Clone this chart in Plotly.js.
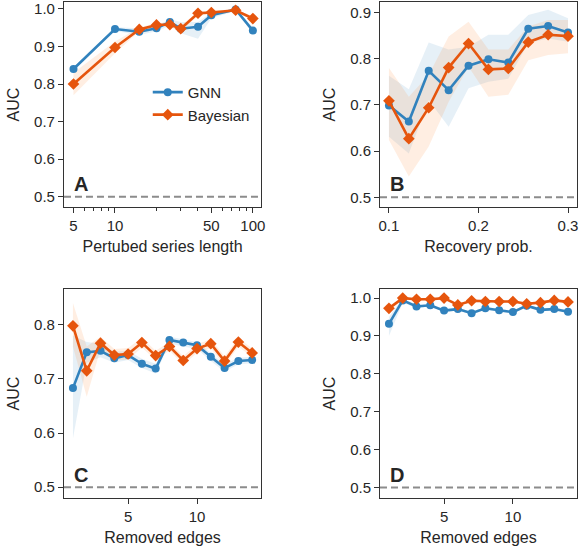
<!DOCTYPE html>
<html>
<head>
<meta charset="utf-8">
<script src="https://cdn.plot.ly/plotly-3.0.1.min.js"></script>
<style>html,body{margin:0;padding:0;background:#fff;} #chart{width:579px;height:550px;}</style>
</head>
<body>
<div id="chart"></div>
<script>
// ---- Panel A: perturbed series length (log x) ----
const lenX = [5, 10, 15, 20, 25, 30, 40, 50, 75, 100];
const aGnn   = [0.840, 0.946, 0.939, 0.948, 0.965, 0.947, 0.952, 0.983, 0.998, 0.942];
const aGnnLo = [0.835, 0.941, 0.930, 0.940, 0.955, 0.935, 0.920, 0.975, 0.994, 0.935];
const aGnnHi = [0.845, 0.951, 0.948, 0.955, 0.972, 0.965, 0.965, 0.990, 1.000, 0.950];
const aBay   = [0.800, 0.897, 0.945, 0.957, 0.958, 0.947, 0.988, 0.990, 0.996, 0.974];
const aBayLo = [0.770, 0.882, 0.940, 0.952, 0.952, 0.940, 0.981, 0.985, 0.993, 0.968];
const aBayHi = [0.830, 0.913, 0.950, 0.962, 0.963, 0.955, 0.993, 0.995, 0.999, 0.980];

// ---- Panel B: recovery probability ----
const recX = [0.1, 0.1222, 0.1444, 0.1667, 0.1889, 0.2111, 0.2333, 0.2556, 0.2778, 0.3];
const bGnn   = [0.699, 0.664, 0.774, 0.732, 0.785, 0.799, 0.792, 0.865, 0.871, 0.857];
const bGnnLo = [0.631, 0.595, 0.710, 0.653, 0.736, 0.750, 0.757, 0.834, 0.844, 0.837];
const bGnnHi = [0.763, 0.734, 0.835, 0.820, 0.826, 0.852, 0.852, 0.895, 0.906, 0.888];
const bBay   = [0.709, 0.627, 0.694, 0.781, 0.833, 0.777, 0.779, 0.836, 0.852, 0.849];
const bBayLo = [0.624, 0.545, 0.610, 0.707, 0.783, 0.718, 0.722, 0.797, 0.808, 0.812];
const bBayHi = [0.780, 0.718, 0.765, 0.848, 0.880, 0.820, 0.820, 0.870, 0.884, 0.884];

// ---- Panel C: removed edges ----
const edgesX = [1, 2, 3, 4, 5, 6, 7, 8, 9, 10, 11, 12, 13, 14];
const cGnn   = [0.683, 0.749, 0.752, 0.738, 0.744, 0.728, 0.719, 0.772, 0.767, 0.762, 0.741, 0.720, 0.733, 0.735];
const cGnnLo = [0.590, 0.730, 0.740, 0.730, 0.735, 0.720, 0.710, 0.765, 0.760, 0.755, 0.733, 0.713, 0.727, 0.729];
const cGnnHi = [0.780, 0.768, 0.765, 0.750, 0.752, 0.737, 0.728, 0.778, 0.773, 0.768, 0.748, 0.727, 0.739, 0.741];
const cBay   = [0.798, 0.715, 0.766, 0.744, 0.746, 0.767, 0.743, 0.760, 0.734, 0.756, 0.765, 0.733, 0.768, 0.748];
const cBayLo = [0.760, 0.667, 0.755, 0.735, 0.735, 0.758, 0.735, 0.752, 0.726, 0.748, 0.757, 0.724, 0.760, 0.740];
const cBayHi = [0.840, 0.760, 0.778, 0.755, 0.757, 0.776, 0.752, 0.768, 0.742, 0.764, 0.773, 0.742, 0.776, 0.756];

// ---- Panel D: removed edges ----
const dGnn   = [0.932, 0.994, 0.978, 0.981, 0.967, 0.971, 0.960, 0.973, 0.968, 0.963, 0.980, 0.969, 0.971, 0.964];
const dGnnLo = [0.900, 0.988, 0.974, 0.977, 0.963, 0.967, 0.956, 0.969, 0.964, 0.959, 0.976, 0.965, 0.967, 0.960];
const dGnnHi = [0.950, 1.000, 0.982, 0.985, 0.971, 0.975, 0.964, 0.977, 0.972, 0.967, 0.984, 0.973, 0.975, 0.968];
const dBay   = [0.973, 1.000, 0.997, 0.997, 1.000, 0.982, 0.993, 0.991, 0.991, 0.991, 0.985, 0.988, 0.994, 0.990];
const dBayLo = [0.965, 0.997, 0.994, 0.994, 0.997, 0.979, 0.990, 0.988, 0.988, 0.988, 0.982, 0.985, 0.991, 0.987];
const dBayHi = [0.980, 1.000, 1.000, 1.000, 1.000, 0.985, 0.996, 0.994, 0.994, 0.994, 0.988, 0.991, 0.997, 0.993];

const seriesNames = ['GNN', 'Bayesian'];
const panelLetters = ['A', 'B', 'C', 'D'];
const xTitles = ['Pertubed series length', 'Recovery prob.', 'Removed edges', 'Removed edges'];
const yTitle = 'AUC';
const chanceLevel = 0.5;

const BLUE = '#3182bd';
const ORANGE = '#e6550d';
const BLUE_FILL = 'rgba(49,130,189,0.12)';
const ORANGE_FILL = 'rgba(253,141,60,0.15)';
const FONT = 'Liberation Sans, Arial, sans-serif';

const panels = [
  {x: lenX,   g: aGnn, gl: aGnnLo, gh: aGnnHi, b: aBay, bl: aBayLo, bh: aBayHi},
  {x: recX,   g: bGnn, gl: bGnnLo, gh: bGnnHi, b: bBay, bl: bBayLo, bh: bBayHi},
  {x: edgesX, g: cGnn, gl: cGnnLo, gh: cGnnHi, b: cBay, bl: cBayLo, bh: cBayHi},
  {x: edgesX, g: dGnn, gl: dGnnLo, gh: dGnnHi, b: dBay, bl: dBayLo, bh: dBayHi}
];

function band(x, lo, hi, color, xa, ya) {
  return {
    x: x.concat(x.slice().reverse()),
    y: lo.concat(hi.slice().reverse()),
    xaxis: xa, yaxis: ya,
    type: 'scatter', mode: 'lines', fill: 'toself', fillcolor: color,
    line: {width: 0, color: 'rgba(0,0,0,0)'},
    hoverinfo: 'skip', showlegend: false
  };
}

const traces = [];
panels.forEach((p, i) => {
  const xa = i === 0 ? 'x' : 'x' + (i + 1);
  const ya = i === 0 ? 'y' : 'y' + (i + 1);
  traces.push(band(p.x, p.gl, p.gh, BLUE_FILL, xa, ya));
  traces.push(band(p.x, p.bl, p.bh, ORANGE_FILL, xa, ya));
  traces.push({
    x: p.x, y: p.g, xaxis: xa, yaxis: ya, type: 'scatter', mode: 'lines+markers',
    name: seriesNames[0], showlegend: i === 0, legendrank: 1,
    line: {color: BLUE, width: 2.6}, marker: {color: BLUE, size: 8, symbol: 'circle'}
  });
  traces.push({
    x: p.x, y: p.b, xaxis: xa, yaxis: ya, type: 'scatter', mode: 'lines+markers',
    name: seriesNames[1], showlegend: i === 0, legendrank: 2,
    line: {color: ORANGE, width: 2.6}, marker: {color: ORANGE, size: 9, symbol: 'diamond'}
  });
});

const axBase = {
  showline: true, mirror: true, linecolor: '#333', linewidth: 1,
  ticks: 'outside', ticklen: 5, tickwidth: 1, tickcolor: '#333',
  showgrid: false, zeroline: false,
  tickfont: {family: FONT, size: 15, color: '#262626'},
  automargin: false
};
function xaxis(extra, title, standoff) {
  return Object.assign({}, axBase, {title: {text: title, font: {family: FONT, size: 16, color: '#262626'}, standoff: standoff}}, extra);
}
function yaxis(extra) {
  return Object.assign({}, axBase, {title: {text: yTitle, font: {family: FONT, size: 16, color: '#262626'}, standoff: 10}}, extra);
}

const colL = [0.1105, 0.451];
const colR = [0.6563, 0.9965];
const rowT = [0.6236, 0.9964];
const rowB = [0.0945, 0.4745];

const yt = [0.5, 0.6, 0.7, 0.8, 0.9, 1.0];

const layout = {
  width: 579, height: 550,
  margin: {l: 0, r: 0, t: 0, b: 0},
  paper_bgcolor: '#fff', plot_bgcolor: '#fff',
  font: {family: FONT, color: '#262626'},
  showlegend: true,
  legend: {
    x: 0.44, xanchor: 'right', y: 0.862, yanchor: 'top',
    bgcolor: 'rgba(0,0,0,0)', font: {family: FONT, size: 15, color: '#262626'},
    tracegroupgap: 0, itemwidth: 30
  },
  xaxis: xaxis({domain: colL, anchor: 'y', type: 'log', range: [0.63, 2.06],
    tickmode: 'array', tickvals: [5, 10, 50, 100], ticktext: ['5', '10', '50', '100'],
    minor: {tickmode: 'array', tickvals: [6, 7, 8, 9, 20, 30, 40, 60, 70, 80, 90], ticklen: 3, tickcolor: '#333', ticks: 'outside'}
  }, xTitles[0], 7),
  yaxis: yaxis({domain: rowT, anchor: 'x', range: [0.473, 1.018], tickmode: 'array', tickvals: yt, tickformat: '.1f'}),
  xaxis2: xaxis({domain: colR, anchor: 'y2', range: [0.09, 0.31], tickmode: 'array', tickvals: [0.1, 0.2, 0.3], tickformat: '.1f'}, xTitles[1], 7),
  yaxis2: yaxis({domain: rowT, anchor: 'x2', range: [0.479, 0.923], tickmode: 'array', tickvals: yt, tickformat: '.1f'}),
  xaxis3: xaxis({domain: colL, anchor: 'y3', range: [0.35, 14.65], tickmode: 'array', tickvals: [5, 10]}, xTitles[2], 7),
  yaxis3: yaxis({domain: rowB, anchor: 'x3', range: [0.48, 0.866], tickmode: 'array', tickvals: yt, tickformat: '.1f'}),
  xaxis4: xaxis({domain: colR, anchor: 'y4', range: [0.35, 14.65], tickmode: 'array', tickvals: [5, 10]}, xTitles[3], 7),
  yaxis4: yaxis({domain: rowB, anchor: 'x4', range: [0.472, 1.024], tickmode: 'array', tickvals: yt, tickformat: '.1f'}),
  shapes: [],
  annotations: []
};

['', '2', '3', '4'].forEach((s, i) => {
  layout.shapes.push({
    type: 'line', xref: 'x' + s + ' domain', yref: 'y' + s,
    x0: 0, x1: 1, y0: chanceLevel, y1: chanceLevel,
    line: {color: '#8c8c8c', width: 2, dash: '7px,4px'}, layer: 'below'
  });
  layout.annotations.push({
    text: '<b>' + panelLetters[i] + '</b>', xref: 'x' + s + ' domain', yref: 'y' + s + ' domain',
    x: 0.04, y: 0.05, xanchor: 'left', yanchor: 'bottom', showarrow: false,
    font: {family: FONT, size: 20, color: '#262626'}
  });
});

Plotly.newPlot('chart', traces, layout, {staticPlot: true, displayModeBar: false});
</script>
</body>
</html>
